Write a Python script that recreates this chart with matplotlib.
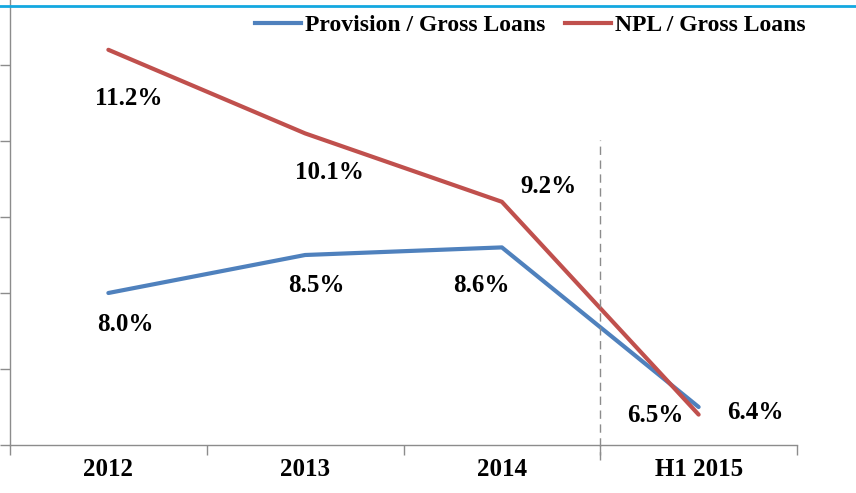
import matplotlib
matplotlib.use("Agg")
import matplotlib.pyplot as plt
from matplotlib.lines import Line2D

categories = ["2012", "2013", "2014", "H1 2015"]
provision = [8.0, 8.5, 8.6, 6.5]
npl = [11.2, 10.1, 9.2, 6.4]
provision_labels = ["8.0%", "8.5%", "8.6%", "6.5%"]
npl_labels = ["11.2%", "10.1%", "9.2%", "6.4%"]

BLUE = "#4F81BD"
RED = "#C0504D"
GRAY = "#8C8C8C"
FONT = "Liberation Serif"

fig = plt.figure(figsize=(8.56, 4.93), dpi=100)
W, H = 856, 493
PX = 76.0  # pixels per unit on the y axis
ax = fig.add_axes([10 / W, 1 - 445 / H, (797 - 10) / W, 445 / H])

x = list(range(len(categories)))
ax.plot(x, provision, color=BLUE, lw=3.0, solid_capstyle="round", label="Provision / Gross Loans")
ax.plot(x, npl, color=RED, lw=3.0, solid_capstyle="round", label="NPL / Gross Loans")

ax.set_xlim(-0.5, len(categories) - 0.5)
ax.set_ylim(6.0, 6.0 + 445 / PX)

# ticks
ax.set_yticks([6, 7, 8, 9, 10, 11])
ax.set_yticklabels([])
ax.tick_params(axis="y", direction="out", length=7, color=GRAY, width=1)
ax.set_xticks(x)
ax.set_xticklabels(categories, fontfamily=FONT, fontweight="bold", fontsize=18)
ax.tick_params(axis="x", which="major", length=0, pad=9)
ax.set_xticks([i - 0.5 for i in range(len(categories) + 1)], minor=True)
ax.tick_params(axis="x", which="minor", direction="out", length=7, color=GRAY, width=1)

for s in ["top", "right"]:
    ax.spines[s].set_visible(False)
for s in ["left", "bottom"]:
    ax.spines[s].set_color(GRAY)
    ax.spines[s].set_linewidth(1)

# dashed separator between 2014 and H1 2015
ax.plot([2.5, 2.5], [6.0 - 15 / PX, 6.0 + (445 - 140) / PX], color=GRAY, lw=1,
        ls=(0, (6, 4)), clip_on=False)

# data labels (offsets in pixels)
npl_off = [(20, -49), (24, -39), (47, 15), (57, 2)]
prov_off = [(17, -32), (11, -31), (-21, -38), (-43, -9)]
for i in x:
    ax.annotate(npl_labels[i], (x[i], npl[i]), xytext=npl_off[i], textcoords="offset pixels",
                ha="center", va="center", fontfamily=FONT, fontweight="bold", fontsize=18)
    ax.annotate(provision_labels[i], (x[i], provision[i]), xytext=prov_off[i], textcoords="offset pixels",
                ha="center", va="center", fontfamily=FONT, fontweight="bold", fontsize=18)

# legend
handles = [Line2D([], [], color=BLUE, lw=3.0), Line2D([], [], color=RED, lw=3.0)]
leg = fig.legend(handles, ["Provision / Gross Loans", "NPL / Gross Loans"], loc="center left",
                 bbox_to_anchor=(255 / W, 1 - 25 / H), ncol=2, frameon=False,
                 prop={"family": FONT, "weight": "bold", "size": 17},
                 handlelength=1.95, handletextpad=0.15, columnspacing=0.85,
                 borderaxespad=0, borderpad=0)

# top cyan rule
fig.add_artist(Line2D([0, 1], [1 - 6 / H, 1 - 6 / H], transform=fig.transFigure,
                      color="#14A8E0", lw=2))

fig.savefig("out.png", dpi=100)
